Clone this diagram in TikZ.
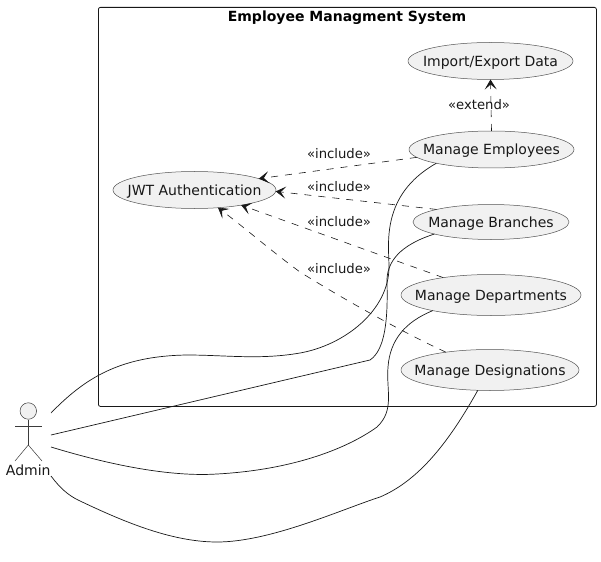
\documentclass[tikz,border=0pt]{standalone}
\usepackage{fontspec}
\setmainfont{DejaVu Sans}
\usetikzlibrary{arrows.meta,shapes.geometric}
\definecolor{ink}{HTML}{181818}
\definecolor{uc}{HTML}{F1F1F1}
\tikzset{
  usecase/.style={ellipse,draw=ink!75,fill=uc,line width=0.5pt,inner xsep=-40pt,inner ysep=-12pt,outer sep=0pt,text=ink,font=\fontsize{14}{16}\selectfont,text height=13pt,text depth=2pt,minimum width=#1},
  stick/.style={draw=ink!85,line width=0.5pt},
  dep/.style={draw=ink,line width=0.6pt,dash pattern=on 7pt off 7pt,-{Stealth[length=10pt,width=12pt,inset=5pt]}},
  assoc/.style={draw=ink,line width=0.7pt},
  lbl/.style={font=\fontsize{13.2}{15}\selectfont,text=ink,inner sep=0pt,anchor=base},
}
\begin{document}
\begin{tikzpicture}[x=1pt,y=-1pt]
\useasboundingbox (0,0) rectangle (601,561);
\node[draw=ink,line width=0.8pt,rounded corners=2pt,minimum width=498pt,minimum height=399pt,inner sep=0pt,anchor=north west] (sys) at (98,7) {};
\node[font=\fontsize{14}{15}\bfseries\selectfont,text=black,inner sep=0pt,anchor=base] (title) at (347,22) {Employee Managment System};

\node[usecase=165pt,minimum height=37pt] (imp) at (490.5,61) {Import/Export Data};
\node[usecase=165pt,minimum height=37pt] (emp) at (491.5,149.5) {Manage Employees};
\node[usecase=156pt,minimum height=35pt] (bra) at (491,222) {Manage Branches};
\node[usecase=180pt,minimum height=41pt] (dpt) at (491,295) {Manage Departments};
\node[usecase=178pt,minimum height=41pt] (des) at (490,370) {Manage Designations};
\node[usecase=163pt,minimum height=37pt] (jwt) at (194.5,190) {JWT Authentication};

% actor
\node[circle,draw=ink!85,fill=uc,line width=0.5pt,minimum size=16.5pt,inner sep=0pt] (head) at (28.3,411) {};
\coordinate (hip) at (28.3,445);
\coordinate (armL) at (15,426);
\coordinate (armR) at (42,426);
\coordinate (legL) at (15,461);
\coordinate (legR) at (42,461);
\draw[stick] (head.south) -- (hip);
\draw[stick] (armL) -- (armR);
\draw[stick] (legL) -- (hip) -- (legR);
\node[font=\fontsize{14}{16}\selectfont,text=ink,inner sep=0pt,anchor=base] (admin) at (28.3,475) {Admin};

\coordinate (a1) at (51,413);
\coordinate (a2) at (51,435);
\coordinate (a3) at (51,447);
\coordinate (a4) at (51,476);

% associations
\draw[assoc] (a1) .. controls (85,378) and (120,356) .. (187,355) .. controls (225,355) and (260,360) .. (300,353) .. controls (345,345) and (389,310) .. (389,267) .. controls (389,245) and (380,195) .. (emp.194.4);
\draw[assoc] (a2) -- (370,360) .. controls (385,350) and (388,320) .. (387,283) .. controls (386,262) and (400,245) .. (bra.192);
\draw[assoc] (a3) .. controls (110,465) and (170,477) .. (217,474) .. controls (290,470) and (345,450) .. (377,427) .. controls (395,410) and (386,390) .. (388,367) .. controls (390,340) and (405,322) .. (dpt.195.4);
\draw[assoc] (a4) .. controls (60,488) and (68,495) .. (78,500) .. controls (120,520) and (170,542) .. (217,542) .. controls (270,542) and (340,510) .. (380,497) .. controls (420,480) and (450,440) .. (des.239);

% dependencies
\draw[dep] (emp.186) -- (jwt.10.7);
\draw[dep] (bra.167.5) -- (jwt.359);
\draw[dep] (dpt.160.3) -- (jwt.-18.2);
\draw[dep] (des.158.2) .. controls (400,331) and (340,297) .. (300,272) .. controls (270,250) and (245,228) .. (jwt.-37.4);
\draw[dep] (emp.north) -- (imp.south);

\node[lbl] (l1) at (339,159) {«include»};
\node[lbl] (l2) at (339,191) {«include»};
\node[lbl] (l3) at (339,226.5) {«include»};
\node[lbl] (l4) at (339,273) {«include»};
\node[lbl] (l5) at (479,110) {«extend»};
\end{tikzpicture}
\end{document}
